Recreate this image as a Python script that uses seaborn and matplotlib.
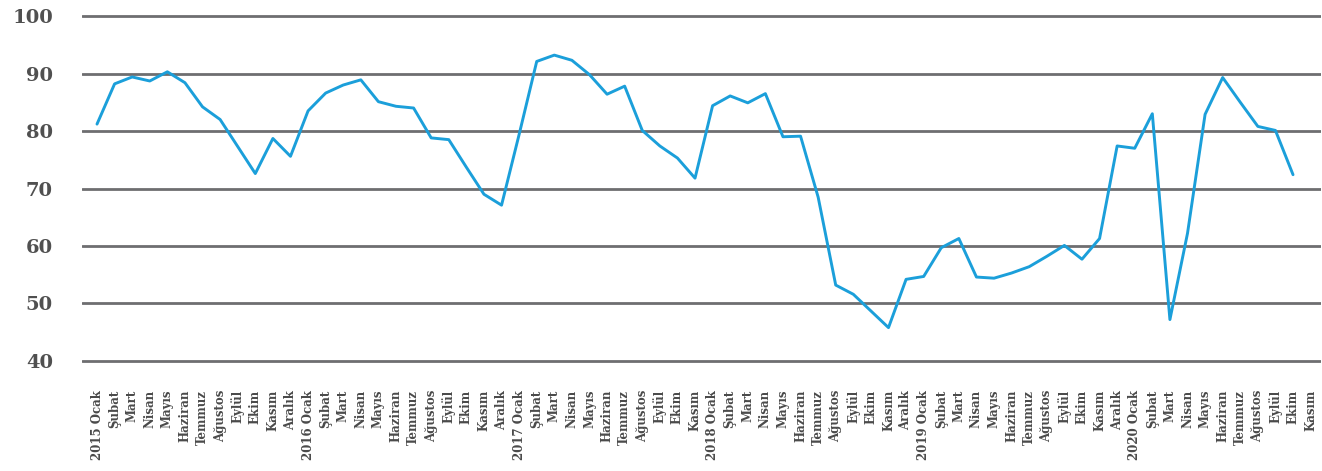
import numpy as np
import pandas as pd
import matplotlib
matplotlib.use("Agg")
import matplotlib.pyplot as plt
import seaborn as sns

# Monthly tick labels (no December entry for 2017)
month_labels = [
    "2015 Ocak", "Şubat", "Mart", "Nisan", "Mayıs", "Haziran", "Temmuz",
    "Ağustos", "Eylül", "Ekim", "Kasım", "Aralık",
    "2016 Ocak", "Şubat", "Mart", "Nisan", "Mayıs", "Haziran", "Temmuz",
    "Ağustos", "Eylül", "Ekim", "Kasım", "Aralık",
    "2017 Ocak", "Şubat", "Mart", "Nisan", "Mayıs", "Haziran", "Temmuz",
    "Ağustos", "Eylül", "Ekim", "Kasım",
    "2018 Ocak", "Şubat", "Mart", "Nisan", "Mayıs", "Haziran", "Temmuz",
    "Ağustos", "Eylül", "Ekim", "Kasım", "Aralık",
    "2019 Ocak", "Şubat", "Mart", "Nisan", "Mayıs", "Haziran", "Temmuz",
    "Ağustos", "Eylül", "Ekim", "Kasım", "Aralık",
    "2020 Ocak", "Şubat", "Mart", "Nisan", "Mayıs", "Haziran", "Temmuz",
    "Ağustos", "Eylül", "Ekim", "Kasım",
]

# Index values per month (last month has no value yet)
index_values = [
    81.2, 88.2, 89.4, 88.7, 90.3, 88.4, 84.2, 82.0, 77.3, 72.6, 78.7, 75.6,
    83.5, 86.6, 88.0, 88.9, 85.1, 84.3, 84.0, 78.8, 78.5, 73.7, 69.0, 67.1,
    79.4, 92.1, 93.2, 92.3, 89.8, 86.4, 87.8, 80.1, 77.4, 75.3, 71.8,
    84.4, 86.1, 84.9, 86.5, 79.0, 79.1, 68.5, 53.2, 51.6, 48.7, 45.8, 54.2,
    54.7, 59.7, 61.3, 54.6, 54.4, 55.3, 56.4, 58.2, 60.1, 57.7, 61.3, 77.4,
    77.0, 83.0, 47.2, 62.2, 82.9, 89.3, 85.0, 80.8, 80.1, 72.4,
]

y_ticks = [40, 50, 60, 70, 80, 90, 100]

df = pd.DataFrame({"sira": np.arange(len(index_values)), "endeks": index_values})

sns.set_style("white")
plt.rcParams["font.family"] = ["DejaVu Serif"]

W, H = 1322, 471
fig = plt.figure(figsize=(W / 100, H / 100), dpi=100)
ax = fig.add_axes([82 / W, 1 - 362.7 / H, (1321 - 82) / W, (362.7 - 14.3) / H])

sns.lineplot(data=df, x="sira", y="endeks", color="#1b9fda", linewidth=2.1, ax=ax)

ax.set_xlim(-0.853, 69.59)
ax.set_ylim(39.7, 100.3)
ax.set_yticks(y_ticks)
ax.set_yticklabels([str(v) for v in y_ticks], fontsize=14, fontweight="bold",
                   color="#505050")
ax.set_xticks(np.arange(len(month_labels)))
ax.set_xticklabels(month_labels, rotation=90, fontsize=8.5, fontweight="bold",
                   color="#4a4a4a")
ax.tick_params(axis="y", length=0, pad=21)
ax.tick_params(axis="x", length=0, pad=19.5)

ax.set_axisbelow(True)
ax.yaxis.grid(True, color="#6e6e70", linewidth=2.0)
ax.xaxis.grid(False)
for s in ax.spines.values():
    s.set_visible(False)
ax.set_xlabel("")
ax.set_ylabel("")

fig.savefig("out.png", dpi=100)
